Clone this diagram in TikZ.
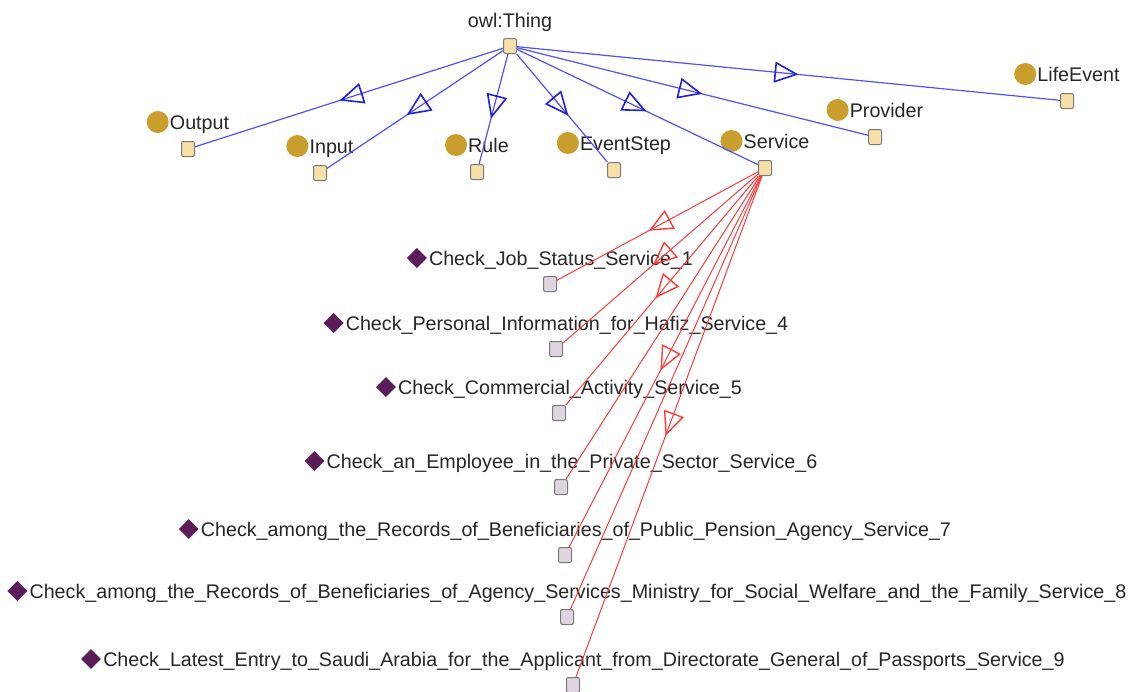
\documentclass[tikz,border=0pt]{standalone}
\usepackage{fontspec}
\setmainfont{Liberation Sans}
\usetikzlibrary{shapes.geometric,arrows.meta,decorations.markings,calc}
\definecolor{goldc}{HTML}{C99E2C}
\definecolor{purp}{HTML}{5A1D5A}
\definecolor{beige}{HTML}{F8DFA8}
\definecolor{lav}{HTML}{DED5E0}
\definecolor{sqborder}{HTML}{7A7A7A}
\definecolor{txt}{HTML}{262626}
\definecolor{blueln}{HTML}{5050FF}
\definecolor{bluetip}{HTML}{1E1EE6}
\definecolor{redln}{HTML}{FF3A3A}
\pgfdeclarelayer{front}
\pgfsetlayers{main,front}
\tikzset{
  clsq/.style={draw=sqborder, fill=beige, rounded corners=2pt, minimum width=13pt, minimum height=15pt, inner sep=0pt, line width=1pt},
  indsq/.style={clsq, fill=lav},
  lbl/.style={inner sep=0pt, anchor=base, text=txt, font=\fontsize{19.7}{22}\selectfont},
  clsicon/.style={circle, fill=goldc, minimum size=22pt, inner sep=0pt},
  indicon/.style={diamond, fill=purp, minimum width=20pt, minimum height=20pt, inner sep=0pt},
  subcls/.style={draw=blueln, line width=1.2pt, postaction={decorate},
    decoration={markings, mark=at position 0.5 with {\arrow[xshift=10pt, bluetip, line width=1.6pt]{Triangle[open, length=24pt, width=21pt]}}}},
  instln/.style={draw=redln, line width=1pt},
  instarr/.style={instln, postaction={decorate},
    decoration={markings, mark=at position 0.5 with {\arrow[xshift=10pt, redln, line width=1.4pt]{Triangle[open, length=24pt, width=21pt]}}}}
}
\newcommand\clsnode[4]{%
  \begin{pgfonlayer}{front}\node[clsq] (#1) at (#2,-#3) {};\end{pgfonlayer}
  \node[lbl] (#1t) at (#2+11.5,-#3+20) {#4};
  \node[clsicon] (#1i) at ($(#1t.base west)+(-12,7)$) {};
}
\newcommand\indnode[4]{%
  \begin{pgfonlayer}{front}\node[indsq] (#1) at (#2,-#3) {};\end{pgfonlayer}
  \node[lbl] (#1t) at (#2+11,-#3+19) {#4};
  \node[indicon] (#1i) at ($(#1t.base west)+(-12,7)$) {};
}
\begin{document}
\begin{tikzpicture}[x=1pt,y=1pt]
\fill[white] (0,0) rectangle (1130,-691);
\useasboundingbox (0,0) rectangle (1130,-691);

% root
\begin{pgfonlayer}{front}\node[clsq] (thing) at (510,-46) {};\end{pgfonlayer}
\node[lbl] (thingt) at (510,-27) {owl:Thing};

% classes
\clsnode{output}{188}{149}{Output}
\clsnode{input}{320}{173}{Input}
\clsnode{rule}{477}{172}{Rule}
\clsnode{eventstep}{614}{170}{EventStep}
\clsnode{service}{765}{168}{Service}
\clsnode{provider}{875}{137}{Provider}
\clsnode{lifeevent}{1067}{101}{LifeEvent}

% individuals
\indnode{ia}{550}{284}{Check\_Job\_Status\_Service\_1}
\indnode{ib}{556}{349}{Check\_Personal\_Information\_for\_Hafiz\_Service\_4}
\indnode{ic}{559}{413}{Check\_Commercial\_Activity\_Service\_5}
\indnode{id}{561}{487}{Check\_an\_Employee\_in\_the\_Private\_Sector\_Service\_6}
\indnode{ie}{565}{555}{Check\_among\_the\_Records\_of\_Beneficiaries\_of\_Public\_Pension\_Agency\_Service\_7}
\indnode{if}{567}{617}{Check\_among\_the\_Records\_of\_Beneficiaries\_of\_Agency\_Services\_Ministry\_for\_Social\_Welfare\_and\_the\_Family\_Service\_8}
\indnode{ig}{573}{685}{Check\_Latest\_Entry\_to\_Saudi\_Arabia\_for\_the\_Applicant\_from\_Directorate\_General\_of\_Passports\_Service\_9}

% subclass edges
\draw[subcls] (thing) -- (output);
\draw[subcls] (thing) -- (input);
\draw[subcls] (thing) -- (rule);
\draw[subcls] (thing) -- (eventstep);
\draw[subcls] (thing) -- (service);
\draw[subcls] (thing) -- (provider);
\draw[subcls] (thing) -- (lifeevent);

% instance edges
\draw[instarr] (service) -- (ia);
\draw[instarr] (service) -- (ib);
\draw[instarr] (service) -- (ic);
\draw[instln] (service) -- (id);
\draw[instarr] (service) -- (ie);
\draw[instln] (service) -- (if);
\draw[instarr] (service) -- (ig);
\end{tikzpicture}
\end{document}
